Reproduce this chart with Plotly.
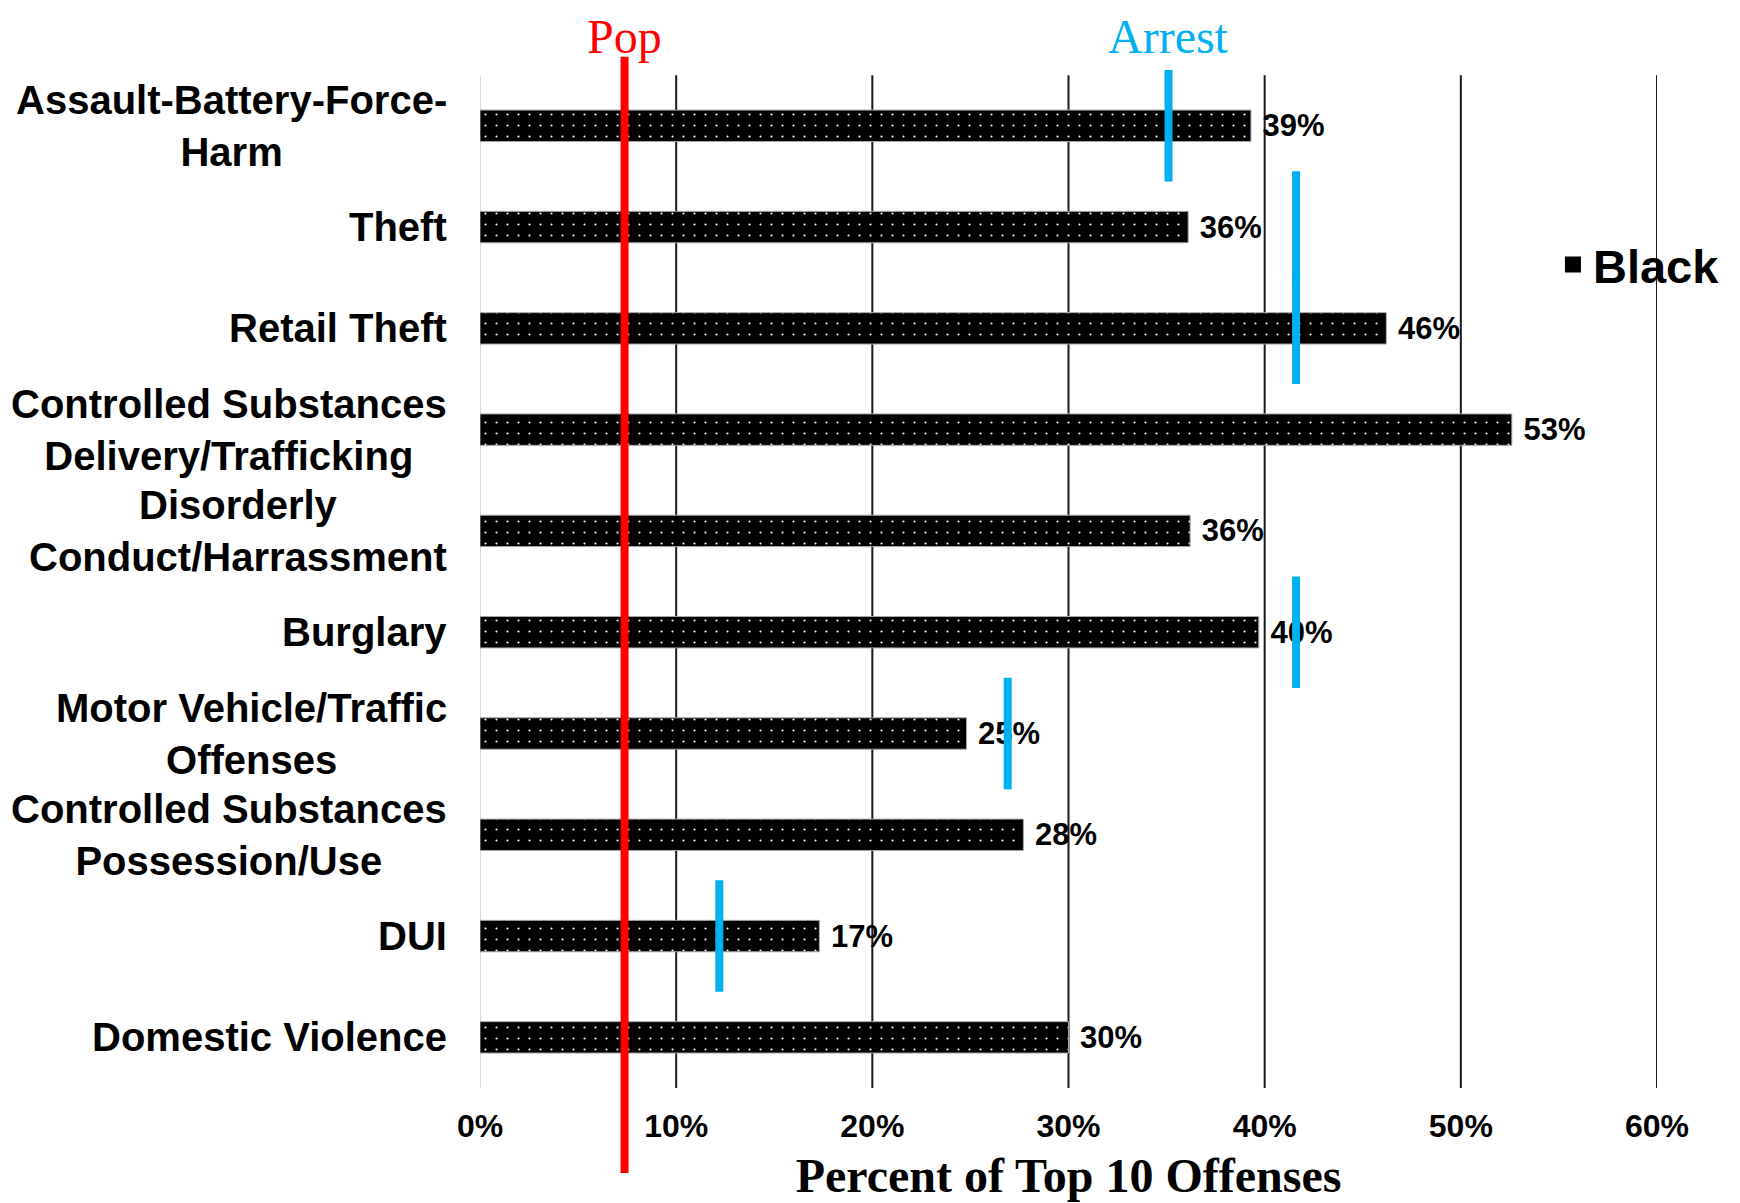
import plotly.graph_objects as go

categories = [
    "Assault-Battery-Force-<br>Harm",
    "Theft",
    "Retail Theft",
    "Controlled Substances<br>Delivery/Trafficking",
    "Disorderly<br>Conduct/Harrassment",
    "Burglary",
    "Motor Vehicle/Traffic<br>Offenses",
    "Controlled Substances<br>Possession/Use",
    "DUI",
    "Domestic Violence",
]
black_pct = [39.3, 36.1, 46.2, 52.6, 36.2, 39.7, 24.8, 27.7, 17.3, 30.0]
arrest_pct = [35.1, 41.6, 41.6, None, None, 41.6, 26.9, None, 12.2, None]
pop_pct = 7.37
x_ticks = [0, 10, 20, 30, 40, 50, 60]
x_tick_labels = ["0%", "10%", "20%", "30%", "40%", "50%", "60%"]

SANS = "Liberation Sans, Arial, sans-serif"
SERIF = "Liberation Serif, Times New Roman, serif"

fig = go.Figure()
fig.add_trace(go.Bar(
    x=black_pct, y=categories, orientation="h", name="Black",
    width=0.31,
    marker=dict(color="black", line=dict(color="#a6a6a6", width=1),
                pattern=dict(shape=".", bgcolor="black", fgcolor="white",
                             fgopacity=1, size=11, solidity=0.03)),
    texttemplate="\u00a0%{x:.0f}%", textposition="outside", cliponaxis=False,
    constraintext="none",
    textfont=dict(family=SANS, size=31, color="black", weight="bold"),
    showlegend=False,
))
# legend entry for the series
fig.add_trace(go.Scatter(
    x=[None], y=[None], mode="markers", name="Black",
    marker=dict(symbol="square", size=25, color="black"),
    showlegend=True,
))

shapes = []
# gridlines
for t in x_ticks:
    shapes.append(dict(type="line", xref="x", yref="y", x0=t, x1=t, y0=-0.5, y1=9.5,
                       line=dict(color="#d9d9d9" if t == 0 else "#1a1a1a", width=2),
                       layer="below"))
# population line
shapes.append(dict(type="line", xref="x", yref="paper", x0=pop_pct, x1=pop_pct,
                   y0=-0.083, y1=1.008, line=dict(color="#ff0000", width=8)))
# arrest markers
for i, a in enumerate(arrest_pct):
    if a is None:
        continue
    shapes.append(dict(type="line", xref="x", yref="y", x0=a, x1=a,
                       y0=i - 0.55, y1=i + 0.55, line=dict(color="#00b0f0", width=8)))

annotations = []
for c in categories:
    annotations.append(dict(text=c, xref="paper", x=0, xshift=-31, yref="y", y=c,
                            xanchor="right", yanchor="middle", align="center",
                            showarrow=False,
                            font=dict(family=SANS, size=40, color="black", weight="bold")))
annotations.append(dict(text="Pop", xref="x", x=pop_pct, yref="paper", y=1.028,
                        xanchor="center", yanchor="middle", showarrow=False,
                        font=dict(family=SERIF, size=48, color="#ff0000")))
annotations.append(dict(text="Arrest", xref="x", x=arrest_pct[0], yref="paper", y=1.028,
                        xanchor="center", yanchor="middle", showarrow=False,
                        font=dict(family=SERIF, size=48, color="#00b0f0")))

fig.update_layout(
    width=1740, height=1203,
    margin=dict(l=472, r=91, t=57, b=123),
    paper_bgcolor="white", plot_bgcolor="white",
    shapes=shapes, annotations=annotations,
    xaxis=dict(range=[0, 60], tickvals=x_ticks, ticktext=x_tick_labels,
               showgrid=False, zeroline=False, showline=False,
               ticks="outside", ticklen=10, tickcolor="rgba(0,0,0,0)",
               tickfont=dict(family=SANS, size=32, color="black", weight="bold"),
               title=dict(text="Percent of Top 10 Offenses", standoff=14,
                          font=dict(family=SERIF, size=48, color="black", weight="bold"))),
    yaxis=dict(range=[9.5, -0.6], showticklabels=False, showgrid=False,
               zeroline=False, showline=False, ticks="", type="category"),
    legend=dict(x=0.9116, y=0.8045, xanchor="left", yanchor="middle",
                bgcolor="rgba(0,0,0,0)",
                font=dict(family=SANS, size=47, color="black", weight="bold")),
)

fig.write_html("out.html")
